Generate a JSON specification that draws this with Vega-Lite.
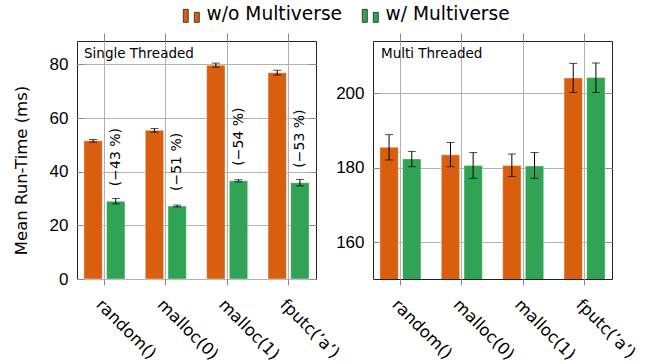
{
  "$schema": "https://vega.github.io/schema/vega-lite/v6.json",
  "padding": {"left": 12, "top": 5, "right": 0, "bottom": 0},
  "background": "white",
  "config": {
    "font": "DejaVu Sans",
    "view": {"stroke": "#222", "strokeWidth": 1},
    "axis": {"labelColor": "black", "titleColor": "black", "domain": false}
  },
  "datasets": {
    "runs": [
      {"panel": "single", "func": "random()", "variant": "w/o Multiverse", "mean": 51.5, "lo": 51.0, "hi": 52.0, "label": ""},
      {"panel": "single", "func": "random()", "variant": "w/ Multiverse", "mean": 29.0, "lo": 28.0, "hi": 30.0, "label": "(−43 %)"},
      {"panel": "single", "func": "malloc(0)", "variant": "w/o Multiverse", "mean": 55.4, "lo": 54.7, "hi": 56.1, "label": ""},
      {"panel": "single", "func": "malloc(0)", "variant": "w/ Multiverse", "mean": 27.2, "lo": 26.85, "hi": 27.55, "label": "(−51 %)"},
      {"panel": "single", "func": "malloc(1)", "variant": "w/o Multiverse", "mean": 79.7, "lo": 78.95, "hi": 80.45, "label": ""},
      {"panel": "single", "func": "malloc(1)", "variant": "w/ Multiverse", "mean": 36.6, "lo": 36.2, "hi": 37.0, "label": "(−54 %)"},
      {"panel": "single", "func": "fputc(’a’)", "variant": "w/o Multiverse", "mean": 76.9, "lo": 76.0, "hi": 77.8, "label": ""},
      {"panel": "single", "func": "fputc(’a’)", "variant": "w/ Multiverse", "mean": 35.9, "lo": 34.7, "hi": 37.1, "label": "(−53 %)"},
      {"panel": "multi", "func": "random()", "variant": "w/o Multiverse", "mean": 185.5, "lo": 182.1, "hi": 188.9, "label": ""},
      {"panel": "multi", "func": "random()", "variant": "w/ Multiverse", "mean": 182.4, "lo": 180.3, "hi": 184.4, "label": ""},
      {"panel": "multi", "func": "malloc(0)", "variant": "w/o Multiverse", "mean": 183.5, "lo": 180.3, "hi": 186.8, "label": ""},
      {"panel": "multi", "func": "malloc(0)", "variant": "w/ Multiverse", "mean": 180.6, "lo": 177.2, "hi": 184.1, "label": ""},
      {"panel": "multi", "func": "malloc(1)", "variant": "w/o Multiverse", "mean": 180.6, "lo": 177.7, "hi": 183.7, "label": ""},
      {"panel": "multi", "func": "malloc(1)", "variant": "w/ Multiverse", "mean": 180.5, "lo": 177.2, "hi": 184.1, "label": ""},
      {"panel": "multi", "func": "fputc(’a’)", "variant": "w/o Multiverse", "mean": 204.1, "lo": 200.2, "hi": 208.0, "label": ""},
      {"panel": "multi", "func": "fputc(’a’)", "variant": "w/ Multiverse", "mean": 204.2, "lo": 200.2, "hi": 208.1, "label": ""}
    ]
  },
  "data": {"name": "runs"},
  "spacing": 57,
  "bounds": "flush",
  "hconcat": [
    {
      "width": 239,
      "height": 238,
      "title": {"text": "Single Threaded", "anchor": "start", "frame": "group", "offset": -39, "dx": 7, "fontSize": 13.5, "fontWeight": "normal", "baseline": "alphabetic", "color": "black"},
      "transform": [{"filter": "datum.panel == 'single'"}],
      "resolve": {"axis": {"x": "independent", "y": "independent"}},
      "encoding": {
        "x": {"field": "func", "type": "nominal", "sort": ["random()", "malloc(0)", "malloc(1)", "fputc(’a’)"], "scale": {"paddingInner": 0.331, "paddingOuter": 0.1125}, "axis": null},
        "xOffset": {"field": "variant", "type": "nominal", "sort": ["w/o Multiverse", "w/ Multiverse"], "scale": {"paddingInner": 0.19, "paddingOuter": 0}}
      },
      "layer": [
        {
          "mark": {"type": "bar", "stroke": "white", "strokeOpacity": 0.4, "strokeWidth": 1},
          "encoding": {
            "x": {"field": "func", "type": "nominal", "sort": ["random()", "malloc(0)", "malloc(1)", "fputc(’a’)"],
              "axis": {"orient": "bottom", "title": null, "bandPosition": 0.5, "labelAngle": 45, "labelAlign": "left", "labelBaseline": "top", "labelPadding": 11, "tickSize": 6, "tickColor": "#888", "grid": true, "gridColor": "#b0b0b0", "labelFont": "DejaVu Sans", "labelFontSize": 16.5}},
            "y": {"field": "mean", "type": "quantitative", "scale": {"domain": [0, 88.7], "nice": false},
              "axis": {"orient": "left", "title": "Mean Run-Time (ms)", "titleY": 129, "values": [0, 20, 40, 60, 80], "grid": true, "gridColor": "#b0b0b0", "tickSize": -7, "tickColor": "#888", "labelPadding": 16, "labelFont": "Liberation Sans", "labelFontSize": 17, "titleFont": "DejaVu Sans", "titleFontSize": 16.5, "titleFontWeight": "normal", "titlePadding": 20}},
            "color": {"field": "variant", "type": "nominal", "scale": {"domain": ["w/o Multiverse", "w/ Multiverse"], "range": ["#d95f0e", "#31a354"]},
              "legend": {"orient": "none", "legendX": 105, "legendY": -36, "direction": "horizontal", "title": null, "symbolType": "M-1,-0.625H-0.375V1H-1Z M0.375,-0.25H1V1H0.375Z", "symbolSize": 256, "symbolStrokeColor": "#222", "symbolStrokeWidth": 0.8, "labelFont": "DejaVu Sans", "labelFontSize": 18.6, "labelColor": "black", "columnPadding": 17, "labelOffset": 6, "symbolOpacity": 1}}
          }
        },
        {
          "mark": {"type": "rule", "color": "black", "strokeWidth": 1},
          "encoding": {
            "y": {"field": "lo", "type": "quantitative", "scale": {"domain": [0, 88.7], "nice": false}, "axis": null},
            "y2": {"field": "hi"}
          }
        },
        {
          "mark": {"type": "tick", "orient": "horizontal", "color": "black", "size": 8, "thickness": 1},
          "encoding": {"y": {"field": "lo", "type": "quantitative", "scale": {"domain": [0, 88.7], "nice": false}, "axis": null}}
        },
        {
          "mark": {"type": "tick", "orient": "horizontal", "color": "black", "size": 8, "thickness": 1},
          "encoding": {"y": {"field": "hi", "type": "quantitative", "scale": {"domain": [0, 88.7], "nice": false}, "axis": null}}
        },
        {
          "transform": [{"filter": "datum.variant == 'w/ Multiverse'"}],
          "mark": {"type": "text", "angle": 270, "align": "left", "baseline": "middle", "dx": 15, "fontSize": 14, "font": "DejaVu Sans", "color": "black"},
          "encoding": {
            "y": {"field": "mean", "type": "quantitative", "scale": {"domain": [0, 88.7], "nice": false}, "axis": null},
            "text": {"field": "label"}
          }
        },
        {
          "mark": {"type": "point", "opacity": 0},
          "encoding": {
            "x": {"field": "func", "type": "nominal", "sort": ["random()", "malloc(0)", "malloc(1)", "fputc(’a’)"],
              "axis": {"orient": "top", "title": null, "labels": false, "grid": false, "bandPosition": 0.5, "tickSize": 8, "tickColor": "#888"}},
            "y": {"field": "mean", "type": "quantitative", "scale": {"domain": [0, 88.7], "nice": false},
              "axis": {"orient": "right", "title": null, "labels": false, "grid": false, "values": [0, 20, 40, 60, 80], "tickSize": -7, "tickColor": "#888"}}
          }
        }
      ]
    },
    {
      "width": 239,
      "height": 238,
      "title": {"text": "Multi Threaded", "anchor": "start", "frame": "group", "offset": -39, "dx": 8, "fontSize": 13.5, "fontWeight": "normal", "baseline": "alphabetic", "color": "black"},
      "transform": [{"filter": "datum.panel == 'multi'"}],
      "resolve": {"axis": {"x": "independent", "y": "independent"}},
      "encoding": {
        "x": {"field": "func", "type": "nominal", "sort": ["random()", "malloc(0)", "malloc(1)", "fputc(’a’)"], "scale": {"paddingInner": 0.331, "paddingOuter": 0.1125}, "axis": null},
        "xOffset": {"field": "variant", "type": "nominal", "sort": ["w/o Multiverse", "w/ Multiverse"], "scale": {"paddingInner": 0.19, "paddingOuter": 0}}
      },
      "layer": [
        {
          "mark": {"type": "bar", "clip": true, "stroke": "white", "strokeOpacity": 0.4, "strokeWidth": 1},
          "encoding": {
            "x": {"field": "func", "type": "nominal", "sort": ["random()", "malloc(0)", "malloc(1)", "fputc(’a’)"],
              "axis": {"orient": "bottom", "title": null, "bandPosition": 0.5, "labelAngle": 45, "labelAlign": "left", "labelBaseline": "top", "labelPadding": 11, "tickSize": 6, "tickColor": "#888", "grid": true, "gridColor": "#b0b0b0", "labelFont": "DejaVu Sans", "labelFontSize": 16.5}},
            "y": {"field": "mean", "type": "quantitative", "scale": {"domain": [150.2, 214], "nice": false, "zero": false},
              "axis": {"orient": "left", "title": null, "values": [160, 180, 200], "grid": true, "gridColor": "#b0b0b0", "tickSize": -7, "tickColor": "#888", "labelPadding": 16, "labelFont": "Liberation Sans", "labelFontSize": 17}},
            "color": {"field": "variant", "type": "nominal", "scale": {"domain": ["w/o Multiverse", "w/ Multiverse"], "range": ["#d95f0e", "#31a354"]},
              "legend": {"orient": "none", "legendX": 105, "legendY": -36, "direction": "horizontal", "title": null, "symbolType": "M-1,-0.625H-0.375V1H-1Z M0.375,-0.25H1V1H0.375Z", "symbolSize": 256, "symbolStrokeColor": "#222", "symbolStrokeWidth": 0.8, "labelFont": "DejaVu Sans", "labelFontSize": 18.6, "labelColor": "black", "columnPadding": 17, "labelOffset": 6, "symbolOpacity": 1}}
          }
        },
        {
          "mark": {"type": "rule", "color": "black", "strokeWidth": 1},
          "encoding": {
            "y": {"field": "lo", "type": "quantitative", "scale": {"domain": [150.2, 214], "nice": false, "zero": false}, "axis": null},
            "y2": {"field": "hi"}
          }
        },
        {
          "mark": {"type": "tick", "orient": "horizontal", "color": "black", "size": 8, "thickness": 1},
          "encoding": {"y": {"field": "lo", "type": "quantitative", "scale": {"domain": [150.2, 214], "nice": false, "zero": false}, "axis": null}}
        },
        {
          "mark": {"type": "tick", "orient": "horizontal", "color": "black", "size": 8, "thickness": 1},
          "encoding": {"y": {"field": "hi", "type": "quantitative", "scale": {"domain": [150.2, 214], "nice": false, "zero": false}, "axis": null}}
        },
        {
          "mark": {"type": "point", "opacity": 0},
          "encoding": {
            "x": {"field": "func", "type": "nominal", "sort": ["random()", "malloc(0)", "malloc(1)", "fputc(’a’)"],
              "axis": {"orient": "top", "title": null, "labels": false, "grid": false, "bandPosition": 0.5, "tickSize": 8, "tickColor": "#888"}},
            "y": {"field": "mean", "type": "quantitative", "scale": {"domain": [150.2, 214], "nice": false, "zero": false},
              "axis": {"orient": "right", "title": null, "labels": false, "grid": false, "values": [160, 180, 200], "tickSize": -7, "tickColor": "#888"}}
          }
        }
      ]
    }
  ]
}
